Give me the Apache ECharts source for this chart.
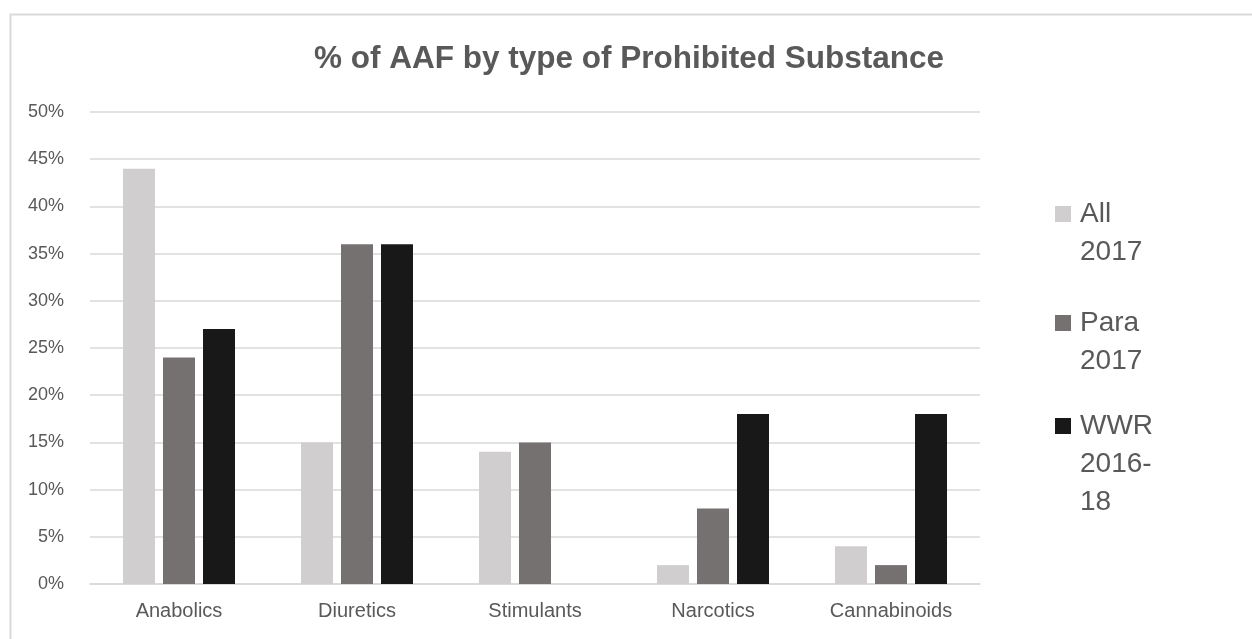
<!DOCTYPE html>
<html>
<head>
<meta charset="utf-8">
<style>
  html, body { margin: 0; padding: 0; background: #fff; }
  #chart { width: 1252px; height: 639px; }
</style>
<script src="https://cdn.jsdelivr.net/npm/echarts@6/dist/echarts.min.js"></script>
</head>
<body>
<div id="chart"></div>
<script>
// categories and values (percent)
const categories = ['Anabolics', 'Diuretics', 'Stimulants', 'Narcotics', 'Cannabinoids']
const all2017 = [44, 15, 14, 2, 4]
const para2017 = [24, 36, 15, 8, 2]
const wwr201618 = [27, 36, null, 18, 18]

const seriesNames = ['All 2017', 'Para 2017', 'WWR 2016-18']
const legendLines = [['All', '2017'], ['Para', '2017'], ['WWR', '2016-', '18']]
const colors = ['#d0cece', '#767171', '#181818']
const legendTops = [157, 266, 331]

const textColor = '#595959'
const font = 'Liberation Sans, Arial, sans-serif'

const myChart = echarts.init(document.getElementById('chart'))

const legends = seriesNames.map((name, i) => {
  const lines = legendLines[i]
  // blank lines in front so the square lines up with the first text line
  const pad = new Array(lines.length - 1).fill('')
  return {
    orient: 'vertical',
    left: 1055,
    top: legendTops[i],
    padding: 0,
    itemWidth: 16,
    itemHeight: 16,
    icon: 'rect',
    data: [name],
    formatter: () => pad.concat(lines).join('\n'),
    textStyle: {
      color: textColor,
      fontFamily: font,
      fontSize: 28,
      lineHeight: 38,
      padding: [0, 0, 0, 4]
    }
  }
})

const option = {
  color: colors,
  animation: false,
  title: {
    text: '% of AAF by type of Prohibited Substance',
    left: 314,
    top: 43,
    padding: 0,
    textStyle: {
      color: textColor,
      fontFamily: font,
      fontSize: 31.5,
      fontWeight: 'bold'
    }
  },
  legend: legends,
  graphic: [{
    type: 'rect',
    left: 8,
    top: 12,
    shape: { width: 1300, height: 700 },
    style: { fill: 'none', stroke: '#d9d9d9', lineWidth: 2 },
    silent: true
  }],
  grid: {
    left: 90,
    right: 272,
    top: 112,
    bottom: 55
  },
  xAxis: {
    type: 'category',
    data: categories,
    axisLine: { lineStyle: { color: '#d9d9d9', width: 1.5 } },
    axisTick: { show: false },
    axisLabel: {
      color: textColor,
      fontFamily: font,
      fontSize: 20,
      margin: 17
    }
  },
  yAxis: {
    type: 'value',
    min: 0,
    max: 50,
    interval: 5,
    axisLine: { show: false },
    axisTick: { show: false },
    splitLine: { lineStyle: { color: '#d9d9d9', width: 1.5 } },
    axisLabel: {
      formatter: '{value}%',
      color: textColor,
      fontFamily: font,
      fontSize: 18,
      margin: 26
    }
  },
  series: [
    { name: seriesNames[0], type: 'bar', data: all2017, barWidth: 32, barGap: '25%' },
    { name: seriesNames[1], type: 'bar', data: para2017, barWidth: 32, barGap: '25%' },
    { name: seriesNames[2], type: 'bar', data: wwr201618, barWidth: 32, barGap: '25%' }
  ]
}

myChart.setOption(option)
</script>
</body>
</html>
